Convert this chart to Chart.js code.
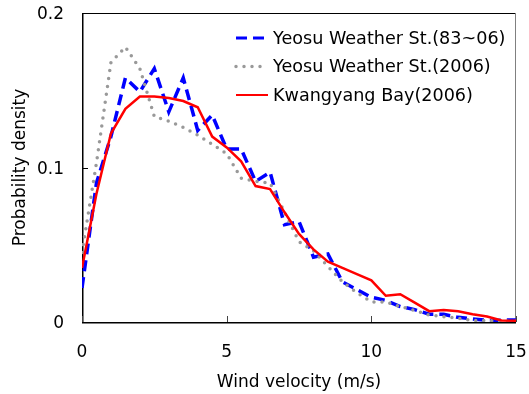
<!DOCTYPE html>
<html>
<head>
<meta charset="utf-8">
<script src="https://cdn.jsdelivr.net/npm/chart.js@4/dist/chart.umd.min.js"></script>
<style>
  html, body { margin: 0; padding: 0; background: #ffffff; }
  #wrap { width: 529px; height: 394px; }
</style>
</head>
<body>
<div id="wrap"><canvas id="c" width="529" height="394"></canvas></div>
<script>
// ---- data ----
const velocity = [0, 0.5, 1, 1.5, 2, 2.5, 3, 3.5, 4, 4.5, 5, 5.5, 6, 6.5, 7, 7.5, 8, 8.5, 9, 9.5, 10, 10.5, 11, 11.5, 12, 12.5, 13, 13.5, 14, 14.5, 15];
const yeosu8306 = [0.022, 0.090, 0.120, 0.158, 0.149, 0.164, 0.136, 0.158, 0.124, 0.134, 0.112, 0.112, 0.091, 0.097, 0.063, 0.065, 0.042, 0.044, 0.026, 0.021, 0.016, 0.014, 0.010, 0.008, 0.005, 0.005, 0.003, 0.002, 0.001, 0.0012, 0.0013];
const yeosu2006 = [0.045, 0.103, 0.168, 0.178, 0.164, 0.133, 0.130, 0.126, 0.121, 0.115, 0.109, 0.093, 0.091, 0.090, 0.071, 0.052, 0.046, 0.036, 0.026, 0.019, 0.013, 0.013, 0.010, 0.0075, 0.0045, 0.0035, 0.0024, 0.001, 0.001, 0.0005, 0.0005];
const kwangyang2006 = [0.035, 0.083, 0.122, 0.138, 0.146, 0.146, 0.145, 0.143, 0.139, 0.120, 0.113, 0.104, 0.088, 0.086, 0.071, 0.057, 0.047, 0.039, 0.035, 0.031, 0.027, 0.017, 0.018, 0.0125, 0.007, 0.0078, 0.007, 0.005, 0.0035, 0.001, 0.0008];
const seriesNames = ['Yeosu Weather St.(83~06)', 'Yeosu Weather St.(2006)', 'Kwangyang Bay(2006)'];
const xTickValues = [0, 5, 10, 15];
const yTickValues = [0, 0.1, 0.2];
const xTitle = 'Wind velocity (m/s)';
const yTitle = 'Probability density';

const FONT = { family: '"DejaVu Sans", sans-serif', size: 17 };
const LEGEND_FONT_SIZE = 17.6;

function pts(arr) { return velocity.map((v, i) => ({ x: v, y: arr[i] })); }

function noOverflowPadding(s) {
  s.paddingTop = 0; s.paddingBottom = 0; s.paddingLeft = 0; s.paddingRight = 0;
}

const framePlugin = {
  id: 'frame',
  beforeDatasetsDraw(chart) {
    const { ctx, chartArea: a, scales } = chart;
    ctx.save();
    ctx.strokeStyle = '#000';
    ctx.lineWidth = 1;
    ctx.beginPath(); ctx.moveTo(a.left, a.top + 0.5); ctx.lineTo(a.right, a.top + 0.5); ctx.stroke();
    ctx.strokeStyle = '#808080';
    ctx.beginPath(); ctx.moveTo(a.right - 0.5, a.top); ctx.lineTo(a.right - 0.5, a.bottom); ctx.stroke();
    ctx.strokeStyle = '#000';
    ctx.lineWidth = 1.5;
    ctx.beginPath(); ctx.moveTo(a.left + 0.75, a.top); ctx.lineTo(a.left + 0.75, a.bottom + 0.75); ctx.lineTo(a.right, a.bottom + 0.75); ctx.stroke();
    ctx.lineWidth = 1;
    ctx.strokeStyle = '#000';
    yTickValues.forEach(v => {
      const y = Math.round(scales.y.getPixelForValue(v)) + 0.5;
      ctx.beginPath(); ctx.moveTo(a.left, y); ctx.lineTo(a.left + 6, y); ctx.stroke();
    });
    ctx.strokeStyle = '#444';
    xTickValues.forEach(v => {
      const x = Math.round(scales.x.getPixelForValue(v)) + 0.5;
      ctx.beginPath(); ctx.moveTo(x, a.bottom); ctx.lineTo(x, a.bottom - 6); ctx.stroke();
    });
    ctx.restore();
  }
};

const legendPlugin = {
  id: 'customLegend',
  afterDatasetsDraw(chart) {
    const { ctx } = chart;
    ctx.save();
    ctx.font = LEGEND_FONT_SIZE + 'px ' + FONT.family;
    ctx.textBaseline = 'middle';
    ctx.textAlign = 'left';
    chart.data.datasets.forEach((ds, i) => {
      const y = 38 + i * 28.5;
      ctx.strokeStyle = ds.borderColor;
      ctx.lineWidth = ds.legendWidth;
      ctx.setLineDash(ds.borderDash || []);
      ctx.lineCap = ds.borderCapStyle || 'butt';
      ctx.beginPath(); ctx.moveTo(236, y); ctx.lineTo(268, y); ctx.stroke();
      ctx.setLineDash([]);
      ctx.fillStyle = '#000';
      ctx.fillText(ds.label, 273, y + 1);
    });
    ctx.restore();
  }
};

new Chart(document.getElementById('c'), {
  type: 'line',
  data: {
    datasets: [
      { label: seriesNames[0], data: pts(yeosu8306), borderColor: '#0000ff', borderWidth: 3.5, legendWidth: 3, borderDash: [11, 6], borderCapStyle: 'butt', pointRadius: 0, tension: 0, order: 3, fill: false },
      { label: seriesNames[1], data: pts(yeosu2006), borderColor: '#999999', borderWidth: 3.5, legendWidth: 3.5, borderDash: [0, 8], borderCapStyle: 'round', pointRadius: 0, tension: 0, order: 2, fill: false },
      { label: seriesNames[2], data: pts(kwangyang2006), borderColor: '#ff0000', borderWidth: 2.5, legendWidth: 2, pointRadius: 0, tension: 0, order: 1, fill: false }
    ]
  },
  options: {
    responsive: false,
    animation: false,
    devicePixelRatio: 1,
    layout: { padding: { left: 0, top: 13, right: 13, bottom: 0 } },
    plugins: { legend: { display: false }, tooltip: { enabled: false } },
    scales: {
      x: {
        type: 'linear', min: 0, max: 15,
        afterBuildTicks: s => { s.ticks = xTickValues.map(v => ({ value: v })); },
        afterFit: s => { s.height = 72; noOverflowPadding(s); },
        grid: { display: false, drawTicks: false },
        border: { display: false },
        ticks: { color: '#000', font: FONT, padding: 20, maxRotation: 0, autoSkip: false, callback: v => String(v) },
        title: { display: true, text: xTitle, color: '#000', font: FONT, padding: { top: 0, bottom: 1 } }
      },
      y: {
        type: 'linear', min: 0, max: 0.2,
        afterBuildTicks: s => { s.ticks = yTickValues.map(v => ({ value: v })); },
        afterFit: s => { s.width = 82; noOverflowPadding(s); },
        grid: { display: false, drawTicks: false },
        border: { display: false },
        ticks: { color: '#000', font: FONT, padding: 18, labelOffset: 2, callback: v => String(v) },
        title: { display: true, text: yTitle, color: '#000', font: FONT, padding: { top: 10, bottom: 0 } }
      }
    }
  },
  plugins: [framePlugin, legendPlugin]
});
</script>
</body>
</html>
